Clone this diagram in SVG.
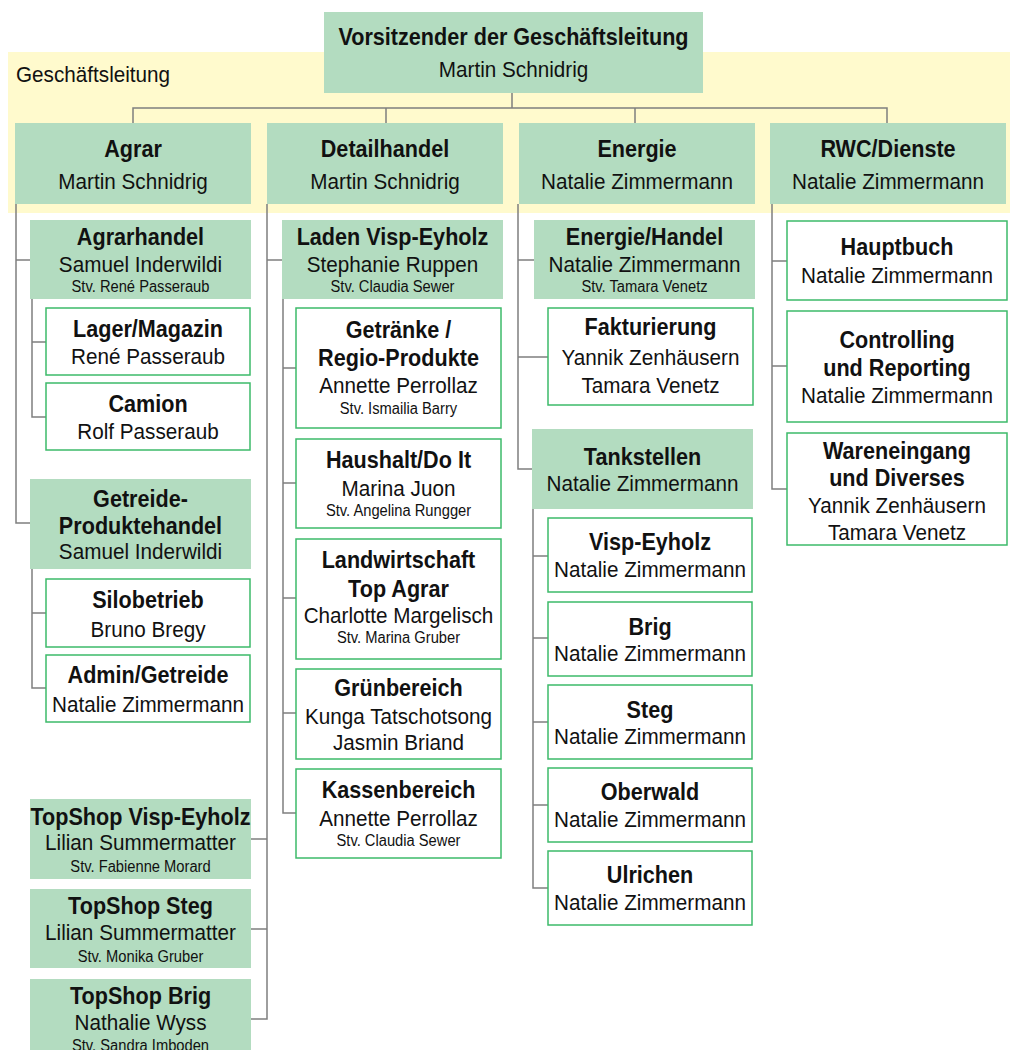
<svg xmlns="http://www.w3.org/2000/svg" width="1010" height="1050" viewBox="0 0 1010 1050">
<style>
.g{fill:#b3dcc0}
.w{fill:#fff;stroke:#3dba6a;stroke-width:1.5}
.ln{fill:none;stroke:#7f7f7f;stroke-width:1.5}
text{font-family:"Liberation Sans",Arial,sans-serif;fill:#111;text-anchor:middle}
.b{font-weight:bold;font-size:23.5px}
.r{font-size:22.5px}
.s{font-size:16px}
</style>
<rect x="8" y="52" width="1002" height="161" fill="#fffacd"/>
<g transform="translate(16 0) scale(.92 1)"><text x="0" y="82" class="r" style="text-anchor:start">Geschäftsleitung</text></g>
<g id="connectors">
<path class="ln" d="M512 93V108M133 123V108H887V123M386 108V123M635 108V123"/>
<path class="ln" d="M16 204V523H30M16 260H30M32 299V417H46M32 342H46M32 569V688H46M32 613H46"/>
<path class="ln" d="M267 204V1019H251M267 260H282M267 839H251M267 929H251M283 299V813H296M283 368H296M283 483H296M283 598H296M283 713H296"/>
<path class="ln" d="M518 204V469H532M518 260H534M518 357H548M533 509V888H548M533 556H548M533 638H548M533 722H548M533 805H548"/>
<path class="ln" d="M772 204V489H787M772 261H787M772 366H787"/>
</g>
<g id="n-top"><rect class="g" x="324" y="12" width="379" height="81"/><g transform="translate(513.5 0) scale(.92 1)"><text x="0" y="45" class="b">Vorsitzender der Geschäftsleitung</text><text x="0" y="77" class="r">Martin Schnidrig</text></g></g>
<g id="n-agrar"><rect class="g" x="15" y="123" width="236" height="81"/><g transform="translate(133 0) scale(.92 1)"><text x="0" y="157" class="b">Agrar</text><text x="0" y="189" class="r">Martin Schnidrig</text></g></g>
<g id="n-detail"><rect class="g" x="267" y="123" width="236" height="81"/><g transform="translate(385 0) scale(.92 1)"><text x="0" y="157" class="b">Detailhandel</text><text x="0" y="189" class="r">Martin Schnidrig</text></g></g>
<g id="n-energie"><rect class="g" x="519" y="123" width="236" height="81"/><g transform="translate(637 0) scale(.92 1)"><text x="0" y="157" class="b">Energie</text><text x="0" y="189" class="r">Natalie Zimmermann</text></g></g>
<g id="n-rwc"><rect class="g" x="770" y="123" width="236" height="81"/><g transform="translate(888 0) scale(.92 1)"><text x="0" y="157" class="b">RWC/Dienste</text><text x="0" y="189" class="r">Natalie Zimmermann</text></g></g>

<g id="n-agrarhandel"><rect class="g" x="30" y="220" width="221" height="79"/><g transform="translate(140.5 0) scale(.92 1)"><text x="0" y="245" class="b">Agrarhandel</text><text x="0" y="272" class="r">Samuel Inderwildi</text><text x="0" y="292" class="s">Stv. René Passeraub</text></g></g>
<g id="n-lager"><rect class="w" x="46" y="308" width="204" height="67"/><g transform="translate(148 0) scale(.92 1)"><text x="0" y="337" class="b">Lager/Magazin</text><text x="0" y="364" class="r">René Passeraub</text></g></g>
<g id="n-camion"><rect class="w" x="46" y="383" width="204" height="67"/><g transform="translate(148 0) scale(.92 1)"><text x="0" y="412" class="b">Camion</text><text x="0" y="439" class="r">Rolf Passeraub</text></g></g>
<g id="n-getreide"><rect class="g" x="30" y="479" width="221" height="90"/><g transform="translate(140.5 0) scale(.92 1)"><text x="0" y="507" class="b">Getreide-</text><text x="0" y="534" class="b">Produktehandel</text><text x="0" y="559" class="r">Samuel Inderwildi</text></g></g>
<g id="n-silo"><rect class="w" x="46" y="579" width="204" height="68"/><g transform="translate(148 0) scale(.92 1)"><text x="0" y="608" class="b">Silobetrieb</text><text x="0" y="637" class="r">Bruno Bregy</text></g></g>
<g id="n-admin"><rect class="w" x="46" y="655" width="204" height="67"/><g transform="translate(148 0) scale(.92 1)"><text x="0" y="683" class="b">Admin/Getreide</text><text x="0" y="712" class="r">Natalie Zimmermann</text></g></g>

<g id="n-laden"><rect class="g" x="282" y="220" width="221" height="79"/><g transform="translate(392.5 0) scale(.92 1)"><text x="0" y="245" class="b">Laden Visp-Eyholz</text><text x="0" y="272" class="r">Stephanie Ruppen</text><text x="0" y="292" class="s">Stv. Claudia Sewer</text></g></g>
<g id="n-getraenke"><rect class="w" x="296" y="308" width="205" height="120"/><g transform="translate(398.5 0) scale(.92 1)"><text x="0" y="338" class="b">Getränke /</text><text x="0" y="366" class="b">Regio-Produkte</text><text x="0" y="393" class="r">Annette Perrollaz</text><text x="0" y="414" class="s">Stv. Ismailia Barry</text></g></g>
<g id="n-haushalt"><rect class="w" x="296" y="439" width="205" height="89"/><g transform="translate(398.5 0) scale(.92 1)"><text x="0" y="468" class="b">Haushalt/Do It</text><text x="0" y="496" class="r">Marina Juon</text><text x="0" y="516" class="s">Stv. Angelina Rungger</text></g></g>
<g id="n-landw"><rect class="w" x="296" y="539" width="205" height="120"/><g transform="translate(398.5 0) scale(.92 1)"><text x="0" y="568" class="b">Landwirtschaft</text><text x="0" y="597" class="b">Top Agrar</text><text x="0" y="623" class="r">Charlotte Margelisch</text><text x="0" y="643" class="s">Stv. Marina Gruber</text></g></g>
<g id="n-gruen"><rect class="w" x="296" y="669" width="205" height="90"/><g transform="translate(398.5 0) scale(.92 1)"><text x="0" y="696" class="b">Grünbereich</text><text x="0" y="724" class="r">Kunga Tatschotsong</text><text x="0" y="750" class="r">Jasmin Briand</text></g></g>
<g id="n-kasse"><rect class="w" x="296" y="769" width="205" height="89"/><g transform="translate(398.5 0) scale(.92 1)"><text x="0" y="798" class="b">Kassenbereich</text><text x="0" y="826" class="r">Annette Perrollaz</text><text x="0" y="846" class="s">Stv. Claudia Sewer</text></g></g>
<g id="n-ts-visp"><rect class="g" x="30" y="799" width="221" height="80"/><g transform="translate(140.5 0) scale(.92 1)"><text x="0" y="825" class="b">TopShop Visp-Eyholz</text><text x="0" y="850" class="r">Lilian Summermatter</text><text x="0" y="872" class="s">Stv. Fabienne Morard</text></g></g>
<g id="n-ts-steg"><rect class="g" x="30" y="889" width="221" height="79"/><g transform="translate(140.5 0) scale(.92 1)"><text x="0" y="914" class="b">TopShop Steg</text><text x="0" y="940" class="r">Lilian Summermatter</text><text x="0" y="962" class="s">Stv. Monika Gruber</text></g></g>
<g id="n-ts-brig"><rect class="g" x="30" y="979" width="221" height="79"/><g transform="translate(140.5 0) scale(.92 1)"><text x="0" y="1004" class="b">TopShop Brig</text><text x="0" y="1030" class="r">Nathalie Wyss</text><text x="0" y="1051" class="s">Stv. Sandra Imboden</text></g></g>

<g id="n-ehandel"><rect class="g" x="534" y="220" width="221" height="79"/><g transform="translate(644.5 0) scale(.92 1)"><text x="0" y="245" class="b">Energie/Handel</text><text x="0" y="272" class="r">Natalie Zimmermann</text><text x="0" y="292" class="s">Stv. Tamara Venetz</text></g></g>
<g id="n-fakt"><rect class="w" x="548" y="308" width="205" height="97"/><g transform="translate(650.5 0) scale(.92 1)"><text x="0" y="335" class="b">Fakturierung</text><text x="0" y="365" class="r">Yannik Zenhäusern</text><text x="0" y="393" class="r">Tamara Venetz</text></g></g>
<g id="n-tank"><rect class="g" x="532" y="429" width="221" height="80"/><g transform="translate(642.5 0) scale(.92 1)"><text x="0" y="465" class="b">Tankstellen</text><text x="0" y="491" class="r">Natalie Zimmermann</text></g></g>
<g id="n-t-visp"><rect class="w" x="548" y="518" width="204" height="74"/><g transform="translate(650 0) scale(.92 1)"><text x="0" y="550" class="b">Visp-Eyholz</text><text x="0" y="577" class="r">Natalie Zimmermann</text></g></g>
<g id="n-t-brig"><rect class="w" x="548" y="602" width="204" height="74"/><g transform="translate(650 0) scale(.92 1)"><text x="0" y="635" class="b">Brig</text><text x="0" y="661" class="r">Natalie Zimmermann</text></g></g>
<g id="n-t-steg"><rect class="w" x="548" y="685" width="204" height="74"/><g transform="translate(650 0) scale(.92 1)"><text x="0" y="718" class="b">Steg</text><text x="0" y="744" class="r">Natalie Zimmermann</text></g></g>
<g id="n-t-ober"><rect class="w" x="548" y="768" width="204" height="74"/><g transform="translate(650 0) scale(.92 1)"><text x="0" y="800" class="b">Oberwald</text><text x="0" y="827" class="r">Natalie Zimmermann</text></g></g>
<g id="n-t-ulr"><rect class="w" x="548" y="851" width="204" height="74"/><g transform="translate(650 0) scale(.92 1)"><text x="0" y="883" class="b">Ulrichen</text><text x="0" y="910" class="r">Natalie Zimmermann</text></g></g>

<g id="n-haupt"><rect class="w" x="787" y="221" width="220" height="79"/><g transform="translate(897 0) scale(.92 1)"><text x="0" y="255" class="b">Hauptbuch</text><text x="0" y="283" class="r">Natalie Zimmermann</text></g></g>
<g id="n-contr"><rect class="w" x="787" y="311" width="220" height="111"/><g transform="translate(897 0) scale(.92 1)"><text x="0" y="348" class="b">Controlling</text><text x="0" y="376" class="b">und Reporting</text><text x="0" y="403" class="r">Natalie Zimmermann</text></g></g>
<g id="n-waren"><rect class="w" x="787" y="433" width="220" height="112"/><g transform="translate(897 0) scale(.92 1)"><text x="0" y="459" class="b">Wareneingang</text><text x="0" y="486" class="b">und Diverses</text><text x="0" y="513" class="r">Yannik Zenhäusern</text><text x="0" y="540" class="r">Tamara Venetz</text></g></g>
</svg>
